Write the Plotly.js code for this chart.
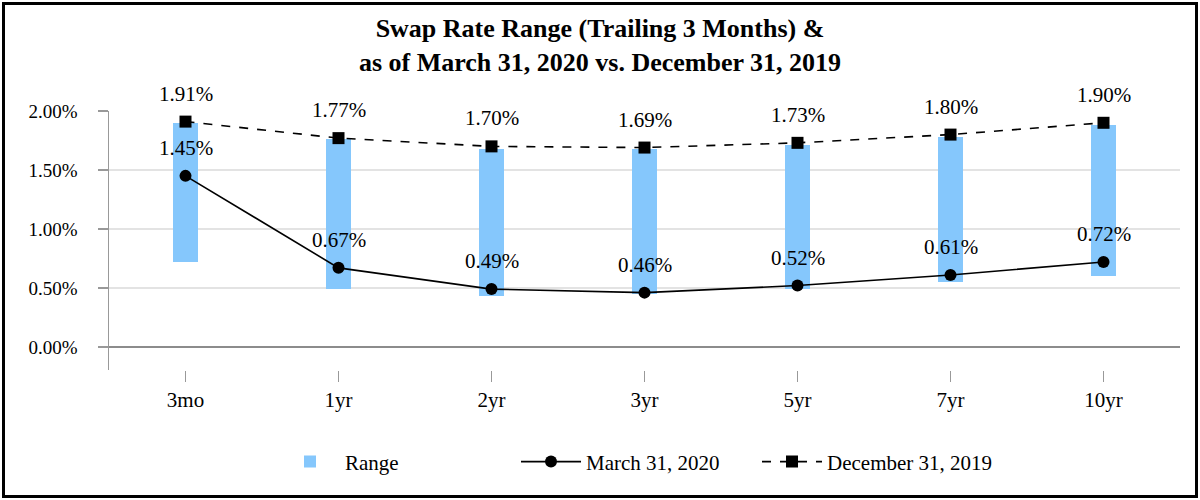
<!DOCTYPE html>
<html>
<head>
<meta charset="utf-8">
<script src="https://cdn.plot.ly/plotly-3.0.1.min.js"></script>
<style>
  html, body { margin: 0; padding: 0; background: #fff; }
  #wrap { position: relative; width: 1200px; height: 500px; }
  #chart { position: absolute; left: 0; top: 0; width: 1200px; height: 500px; }
  #frame { position: absolute; left: 2px; top: 2px; width: 1196px; height: 496px; box-sizing: border-box; border: 3px solid #000; pointer-events: none; }
</style>
</head>
<body>
<div id="wrap"><div id="chart"></div><div id="frame"></div></div>
<script>
const tenors = ["3mo", "1yr", "2yr", "3yr", "5yr", "7yr", "10yr"];
const rangeLow  = [0.72, 0.49, 0.43, 0.45, 0.49, 0.55, 0.60];
const rangeHigh = [1.90, 1.76, 1.68, 1.68, 1.71, 1.78, 1.88];
const mar2020 = [1.45, 0.67, 0.49, 0.46, 0.52, 0.61, 0.72];
const dec2019 = [1.91, 1.77, 1.70, 1.69, 1.73, 1.80, 1.90];

const FONT = "Liberation Serif, Times New Roman, Times, serif";

const traces = [
  {
    type: "bar", name: "Range", x: tenors,
    y: rangeHigh.map((h, i) => h - rangeLow[i]), base: rangeLow,
    width: 0.165, marker: { color: "#85C7FC" }, hoverinfo: "skip"
  },
  {
    type: "scatter", mode: "lines+markers", name: "March 31, 2020", x: tenors, y: mar2020,
    line: { color: "#000", width: 1.6 }, marker: { symbol: "circle", size: 12, color: "#000" }
  },
  {
    type: "scatter", mode: "lines+markers", name: "December 31, 2019", x: tenors, y: dec2019,
    line: { color: "#000", width: 1.6, dash: "dash" }, marker: { symbol: "square", size: 12, color: "#000" }
  }
];

const annotations = [];
tenors.forEach((t, i) => {
  annotations.push({ x: t, y: dec2019[i], text: dec2019[i].toFixed(2) + "%", showarrow: false,
    yanchor: "bottom", yshift: 14, font: { family: FONT, size: 21, color: "#000" } });
  annotations.push({ x: t, y: mar2020[i], text: mar2020[i].toFixed(2) + "%", showarrow: false,
    yanchor: "bottom", yshift: 14, font: { family: FONT, size: 21, color: "#000" } });
});

const layout = {
  width: 1200, height: 500,
  paper_bgcolor: "#fff", plot_bgcolor: "#fff",
  margin: { l: 109, r: 20, t: 111, b: 130 },
  font: { family: FONT, color: "#000", size: 18 },
  title: {
    text: "<b>Swap Rate Range (Trailing 3 Months) &<br>as of March 31, 2020 vs. December 31, 2019</b>",
    font: { family: FONT, size: 26, color: "#000" },
    x: 0.5, xanchor: "center", y: 0.926, yanchor: "middle"
  },
  xaxis: {
    type: "category", showgrid: false, showline: false, zeroline: false,
    ticks: "outside", ticklen: 11, tickcolor: "#999", tickwidth: 1,
    tickfont: { family: FONT, size: 21, color: "#000" }
  },
  yaxis: {
    range: [-0.196, 2.0], tickvals: [0, 0.5, 1.0, 1.5, 2.0],
    ticktext: ["0.00%", "0.50%", "1.00%", "1.50%", "2.00%"],
    showgrid: true, gridcolor: "#e3e3e3", gridwidth: 1.5,
    zeroline: true, zerolinecolor: "#8c8c8c", zerolinewidth: 1.5,
    showline: true, linecolor: "#999", linewidth: 1.5,
    ticks: "outside", ticklen: 10, tickcolor: "#999", tickwidth: 1.5,
    ticklabelstandoff: 16,
    tickfont: { family: FONT, size: 19, color: "#000" }
  },
  showlegend: true,
  legend: {
    orientation: "h", x: 0.155, xanchor: "left", y: -0.355, yanchor: "middle",
    font: { family: FONT, size: 21, color: "#000" },
    itemwidth: 60, traceorder: "normal", entrywidth: 166, entrywidthmode: "pixels"
  },
  annotations: annotations,
  bargap: 0
};

Plotly.newPlot("chart", traces, layout, { displayModeBar: false, staticPlot: true });
</script>
</body>
</html>
